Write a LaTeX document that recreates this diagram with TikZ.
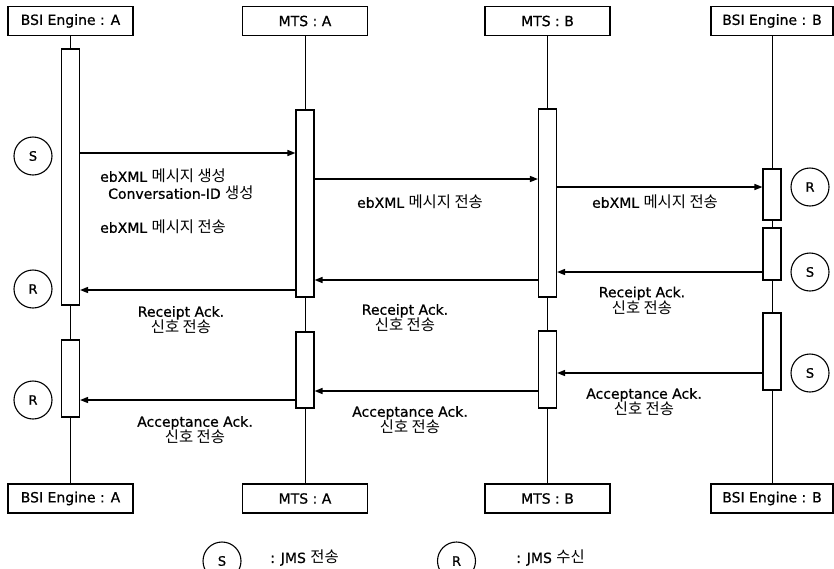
\documentclass[tikz,border=0pt]{standalone}
\usepackage{fontspec}
\setmainfont{DejaVu Sans}[FakeBold=0.7]
\newfontfamily\krfont{Noto Sans CJK KR}[Scale=1.1]
\newcommand\K[1]{{\krfont #1}}
\usetikzlibrary{arrows.meta}
\begin{document}
\begin{tikzpicture}[x=1pt,y=-1pt,
  font=\fontsize{14}{16}\selectfont,
  hdr/.style={draw, line width=1.1pt, minimum width=125pt, minimum height=29pt, inner sep=0pt},
  actbar/.style={draw, fill=white, line width=1.1pt, minimum width=18pt, inner sep=0pt},
  jms/.style={draw, circle, line width=1.1pt, minimum size=38pt, inner sep=0pt, font=\fontsize{13}{15}\selectfont},
  life/.style={line width=0.9pt},
  msg/.style={line width=1.3pt, -{Triangle[length=8pt,width=6pt]}},
  lbl/.style={align=center, inner sep=0pt}]
\useasboundingbox (0,0) rectangle (834,568);
\clip (0,0) rectangle (834,568);
% headers
\node[hdr] (hA) at (70.5,21) {BSI Engine : A};
\node[hdr] (hMA) at (305,21) {MTS : A};
\node[hdr] (hMB) at (547.5,21) {MTS : B};
\node[hdr, minimum width=122pt] (hB) at (772,21) {BSI Engine : B};
% footers
\node[hdr] (fA) at (70.5,498.5) {BSI Engine : A};
\node[hdr] (fMA) at (305,498.5) {MTS : A};
\node[hdr] (fMB) at (547.5,498.5) {MTS : B};
\node[hdr, minimum width=122pt] (fB) at (772,498.5) {BSI Engine : B};
% lifelines
\draw[life] (hA.south) -- (fA.north);
\draw[life] (hMA.south) -- (fMA.north);
\draw[life] (hMB.south) -- (fMB.north);
\draw[life] (hB.south) -- (fB.north);
% activation bars
\node[actbar, minimum height=256pt] (aA1) at (70.5,177) {};
\node[actbar, minimum height=77pt] (aA2) at (70.5,378.5) {};
\node[actbar, minimum height=187pt] (mA1) at (305,203.5) {};
\node[actbar, minimum height=76pt] (mA2) at (305,370) {};
\node[actbar, minimum height=188pt] (mB1) at (547.5,203) {};
\node[actbar, minimum height=77pt] (mB2) at (547.5,369.5) {};
\node[actbar, minimum height=51pt] (bB1) at (772,194.5) {};
\node[actbar, minimum height=52pt] (bB2) at (772,254) {};
\node[actbar, minimum height=77pt] (bB3) at (772,351.5) {};
% messages
\draw[msg] (aA1.east |- 0,153) -- (mA1.west |- 0,153);
\draw[msg] (mA1.east |- 0,179) -- (mB1.west |- 0,179);
\draw[msg] (mB1.east |- 0,187) -- (bB1.west |- 0,187);
\draw[msg] (bB2.west |- 0,272) -- (mB1.east |- 0,272);
\draw[msg] (mB1.west |- 0,280) -- (mA1.east |- 0,280);
\draw[msg] (mA1.west |- 0,290) -- (aA1.east |- 0,290);
\draw[msg] (bB3.west |- 0,373) -- (mB2.east |- 0,373);
\draw[msg] (mB2.west |- 0,391) -- (mA2.east |- 0,391);
\draw[msg] (mA2.west |- 0,400) -- (aA2.east |- 0,400);
% JMS markers
\node[jms] (s1) at (33,156) {S};
\node[jms] (r1) at (33,289) {R};
\node[jms] (r2) at (33,400) {R};
\node[jms] (r3) at (810,187) {R};
\node[jms] (s2) at (810,272) {S};
\node[jms] (s3) at (810,373) {S};
% labels
\node[lbl, anchor=west] (t1) at (100,176) {ebXML \K{메시지 생성}};
\node[lbl, anchor=west] (t2) at (108,193) {Conversation-ID \K{생성}};
\node[lbl, anchor=west] (t3) at (100,227) {ebXML \K{메시지 전송}};
\node[lbl] (t4) at (420,202) {ebXML \K{메시지 전송}};
\node[lbl] (t5) at (655,202) {ebXML \K{메시지 전송}};
\node[lbl] (t6) at (181,320) {Receipt Ack.\\\K{신호 전송}};
\node[lbl] (t7) at (405,318) {Receipt Ack.\\\K{신호 전송}};
\node[lbl] (t8) at (642,300.5) {Receipt Ack.\\\K{신호 전송}};
\node[lbl] (t9) at (195,430) {Acceptance Ack.\\\K{신호 전송}};
\node[lbl] (t10) at (410,420) {Acceptance Ack.\\\K{신호 전송}};
\node[lbl] (t11) at (644,402) {Acceptance Ack.\\\K{신호 전송}};
% legend
\node[jms] (lS) at (222,561) {S};
\node[lbl, anchor=west] (lSt) at (270,558) {: JMS \K{전송}};
\node[jms] (lR) at (456.5,561) {R};
\node[lbl, anchor=west] (lRt) at (516,558) {: JMS \K{수신}};
\end{tikzpicture}
\end{document}
